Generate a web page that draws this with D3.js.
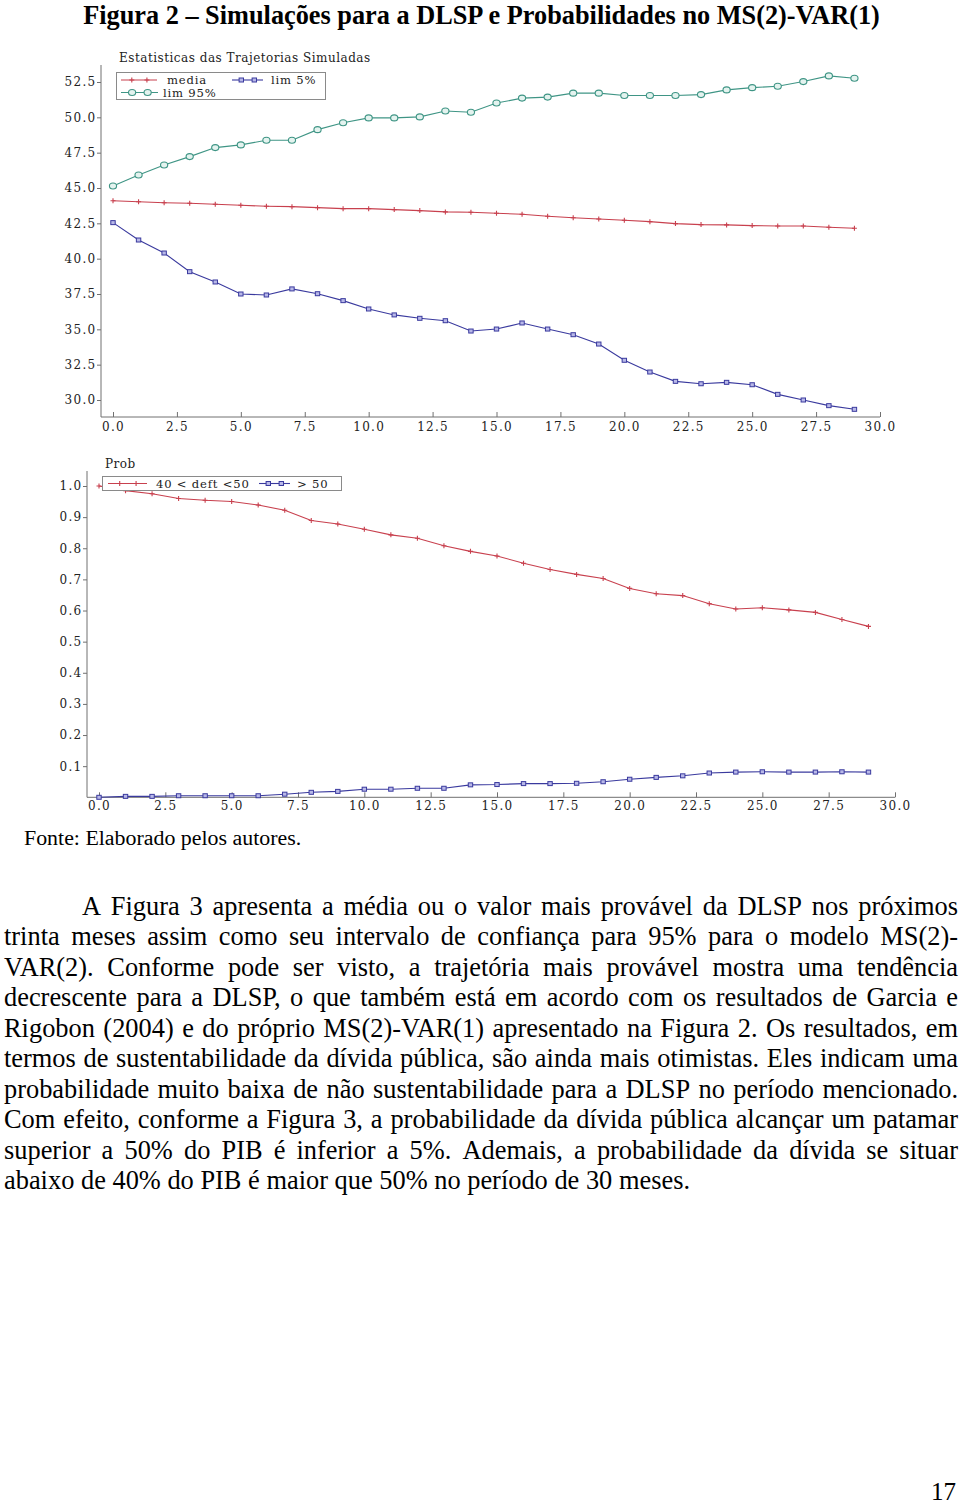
<!DOCTYPE html>
<html><head><meta charset="utf-8">
<script src="https://cdn.jsdelivr.net/npm/d3@7"></script>
<style>
html,body{margin:0;padding:0;background:#fff;}
svg{display:block;}
</style></head>
<body>
<svg id="page" width="960" height="1504"></svg>
<script>
// ---------- DATA ----------
const months = d3.range(0, 30); // 0..29
const media   = [44.10,44.03,43.96,43.92,43.85,43.78,43.71,43.68,43.61,43.54,43.54,43.47,43.40,43.31,43.28,43.21,43.14,43.00,42.90,42.81,42.72,42.62,42.48,42.41,42.39,42.34,42.31,42.31,42.22,42.15];
const lim5    = [42.55,41.32,40.40,39.08,38.35,37.50,37.43,37.86,37.52,37.03,36.44,36.02,35.78,35.61,34.88,35.02,35.45,35.02,34.62,33.96,32.81,31.98,31.32,31.15,31.25,31.08,30.40,30.00,29.60,29.34];
const lim95   = [45.14,45.92,46.63,47.22,47.86,48.05,48.38,48.38,49.13,49.62,49.96,49.96,50.03,50.45,50.36,51.01,51.36,51.43,51.71,51.71,51.54,51.54,51.54,51.61,51.94,52.10,52.20,52.53,52.93,52.77];
const prob4050 = [1.000,0.985,0.975,0.960,0.954,0.950,0.939,0.922,0.889,0.878,0.861,0.843,0.832,0.808,0.790,0.775,0.752,0.732,0.716,0.703,0.671,0.654,0.648,0.622,0.605,0.609,0.602,0.594,0.571,0.549];
const prob50   = [0.000,0.003,0.003,0.005,0.005,0.005,0.005,0.010,0.016,0.019,0.026,0.026,0.029,0.029,0.040,0.041,0.044,0.044,0.045,0.050,0.058,0.064,0.069,0.078,0.081,0.082,0.081,0.081,0.082,0.081];
const xTicks = d3.range(0, 30.01, 2.5);
const yTicksTop = d3.range(30, 52.51, 2.5);
const yTicksBot = d3.range(0.1, 1.001, 0.1);
const topLegend = ["media", "lim 5%", "lim 95%"];
const botLegend = ["40 < deft <50", "> 50"];

const pageTitle = "Figura 2 – Simulações para a DLSP e Probabilidades no MS(2)-VAR(1)";
const fonte = "Fonte: Elaborado pelos autores.";
const paragraph = [
 "A Figura 3 apresenta a média ou o valor mais provável da DLSP nos próximos",
 "trinta meses assim como seu intervalo de confiança para 95% para o modelo MS(2)-",
 "VAR(2). Conforme pode ser visto, a trajetória mais provável mostra uma tendência",
 "decrescente para a DLSP, o que também está em acordo com os resultados de Garcia e",
 "Rigobon (2004) e do próprio MS(2)-VAR(1) apresentado na Figura 2. Os resultados, em",
 "termos de sustentabilidade da dívida pública, são ainda mais otimistas. Eles indicam uma",
 "probabilidade muito baixa de não sustentabilidade para a DLSP no período mencionado.",
 "Com efeito, conforme a Figura 3, a probabilidade da dívida pública alcançar um patamar",
 "superior a 50% do PIB é inferior a 5%. Ademais, a probabilidade da dívida se situar",
 "abaixo de 40% do PIB é maior que 50% no período de 30 meses."
];

// ---------- STYLE ----------
const RED = "#c8404e", BLUE = "#3a3a9e", TEAL = "#3f9585";
const AXIS = "#707070";
const chartFont = "'DejaVu Serif', serif";
const svg = d3.select("#page");

// ---------- PAGE TEXT ----------
const serif = "'Liberation Serif', 'Times New Roman', serif";
svg.append("text").attr("x", 481.5).attr("y", 23.8).attr("text-anchor", "middle")
  .attr("font-family", serif).attr("font-weight", "bold")
  .attr("font-size", 26.3).text(pageTitle);

svg.append("text").attr("x", 24).attr("y", 845)
  .attr("font-family", serif).attr("font-size", 21.9).text(fonte);

const pSize = 26.4;
paragraph.forEach((line, i) => {
  const y = 915 + i * 30.45;
  const x0 = i === 0 ? 82 : 4, x1 = 958;
  const g = svg.append("g");
  if (i === paragraph.length - 1) {
    g.append("text").attr("x", x0).attr("y", y).attr("font-family", serif).attr("font-size", pSize).text(line);
    return;
  }
  const words = line.split(" ");
  const nodes = words.map(w => g.append("text").attr("y", y).attr("font-family", serif).attr("font-size", pSize).text(w));
  const widths = nodes.map(n => n.node().getComputedTextLength());
  const gap = (x1 - x0 - d3.sum(widths)) / (words.length - 1);
  let cx = x0;
  nodes.forEach((n, k) => { n.attr("x", cx); cx += widths[k] + gap; });
});

svg.append("text").attr("x", 956).attr("y", 1500).attr("text-anchor", "end")
  .attr("font-family", serif).attr("font-size", 25).text("17");

// ---------- helpers ----------
function marker(g, type, x, y, color) {
  if (type === "plus") {
    g.append("path").attr("d", `M${x-2.5},${y}H${x+2.5}M${x},${y-2.5}V${y+2.5}`)
      .attr("stroke", color).attr("stroke-width", 1.1).attr("fill", "none");
  } else if (type === "square") {
    g.append("rect").attr("x", x-2.2).attr("y", y-2).attr("width", 4.4).attr("height", 4)
      .attr("fill", "#b8b8e8").attr("stroke", color).attr("stroke-width", 1);
  } else if (type === "circle") {
    g.append("ellipse").attr("cx", x).attr("cy", y).attr("rx", 3.6).attr("ry", 3)
      .attr("fill", "#e4f3ef").attr("stroke", color).attr("stroke-width", 1.1);
  }
}
function series(g, xs, ys, vals, color, type) {
  const line = d3.line().x((d, i) => xs(months[i])).y(d => ys(d));
  g.append("path").datum(vals).attr("d", line).attr("fill", "none")
    .attr("stroke", color).attr("stroke-width", 1.1);
  vals.forEach((v, i) => marker(g, type, xs(months[i]), ys(v), color));
}
function legendItem(g, x0, x1, y, color, type, label, tx) {
  g.append("line").attr("x1", x0).attr("x2", x1).attr("y1", y).attr("y2", y)
    .attr("stroke", color).attr("stroke-width", 1.1);
  const L = x1 - x0;
  marker(g, type, x0 + L * 0.3, y, color);
  marker(g, type, x0 + L * 0.72, y, color);
  g.append("text").attr("x", tx).attr("y", y + 4.2).attr("font-family", chartFont)
    .attr("font-size", 11.6).attr("letter-spacing", 0.8).attr("fill", "#222").text(label);
}
function axes(g, xs, ys, yTicks, yFmt, axisX, axisBottom, axisTop, xEnd, yMinor, xLabelDy) {
  const xMinor = d3.range(0, 30.01, 0.5).filter(v => Math.abs(v / 2.5 - Math.round(v / 2.5)) > 1e-6);
  const gx = g.append("g").attr("transform", `translate(0,${axisBottom})`);
  gx.call(d3.axisBottom(xs).tickValues(xMinor).tickSize(-3).tickFormat(""));
  gx.call(d3.axisBottom(xs).tickValues(xTicks).tickSize(-5).tickPadding(xLabelDy).tickFormat(d3.format(".1f")));
  gx.selectAll(".domain").remove();
  gx.selectAll("line").attr("stroke", AXIS);
  gx.selectAll("text").attr("font-family", chartFont).attr("font-size", 12)
    .attr("letter-spacing", 1.3).attr("fill", "#222");
  const gy = g.append("g").attr("transform", `translate(${axisX},0)`);
  gy.call(d3.axisLeft(ys).tickValues(yMinor).tickSize(2).tickFormat(""));
  gy.call(d3.axisLeft(ys).tickValues(yTicks).tickSize(4).tickPadding(0.5).tickFormat(yFmt));
  gy.selectAll(".domain").remove();
  gy.selectAll("line").attr("stroke", AXIS);
  gy.selectAll("text").attr("font-family", chartFont).attr("font-size", 12)
    .attr("letter-spacing", 1.3).attr("fill", "#222");
  g.append("line").attr("x1", axisX).attr("x2", xEnd).attr("y1", axisBottom).attr("y2", axisBottom)
    .attr("stroke", AXIS).attr("stroke-width", 1);
  g.append("line").attr("x1", axisX).attr("x2", axisX).attr("y1", axisTop).attr("y2", axisBottom)
    .attr("stroke", AXIS).attr("stroke-width", 1);
}

// ---------- TOP CHART ----------
{
  const g = svg.append("g");
  const xs = d3.scaleLinear().domain([0, 30]).range([113, 880]);
  const ys = d3.scaleLinear().domain([30, 52.5]).range([400, 82]);
  const yMinor = d3.range(31.25, 53, 2.5);
  axes(g, xs, ys, yTicksTop, d3.format(".1f"), 101, 417, 65, 880, yMinor, 5);
  g.append("text").attr("x", 119).attr("y", 62).attr("font-family", chartFont)
    .attr("font-size", 12).attr("letter-spacing", 0.5).attr("fill", "#222")
    .text("Estatisticas das Trajetorias Simuladas");
  series(g, xs, ys, media, RED, "plus");
  series(g, xs, ys, lim5, BLUE, "square");
  series(g, xs, ys, lim95, TEAL, "circle");
  const lg = g.append("g");
  lg.append("rect").attr("x", 116.5).attr("y", 72.5).attr("width", 209).attr("height", 27)
    .attr("fill", "white").attr("stroke", "#8a8a8a").attr("stroke-width", 1);
  legendItem(lg, 121, 157, 80, RED, "plus", topLegend[0], 167);
  legendItem(lg, 232, 263, 80, BLUE, "square", topLegend[1], 271);
  legendItem(lg, 121, 158, 92.5, TEAL, "circle", topLegend[2], 163);
}

// ---------- BOTTOM CHART ----------
{
  const g = svg.append("g");
  const xs = d3.scaleLinear().domain([0, 30]).range([99, 895]);
  const ys = d3.scaleLinear().domain([0, 1]).range([797.3, 486]);
  const yMinor = d3.range(0.05, 1.03, 0.1);
  axes(g, xs, ys, yTicksBot, d3.format(".1f"), 87, 797.3, 471, 895, yMinor, 4.5);
  g.append("text").attr("x", 105).attr("y", 468).attr("font-family", chartFont)
    .attr("font-size", 12).attr("letter-spacing", 0.5).attr("fill", "#222").text("Prob");
  series(g, xs, ys, prob4050, RED, "plus");
  series(g, xs, ys, prob50, BLUE, "square");
  const lg = g.append("g");
  lg.append("rect").attr("x", 102.5).attr("y", 476.5).attr("width", 239).attr("height", 14)
    .attr("fill", "white").attr("stroke", "#8a8a8a").attr("stroke-width", 1);
  legendItem(lg, 108, 147, 483.5, RED, "plus", botLegend[0], 156);
  legendItem(lg, 259, 290, 483.5, BLUE, "square", botLegend[1], 297);
}
</script>
</body></html>
